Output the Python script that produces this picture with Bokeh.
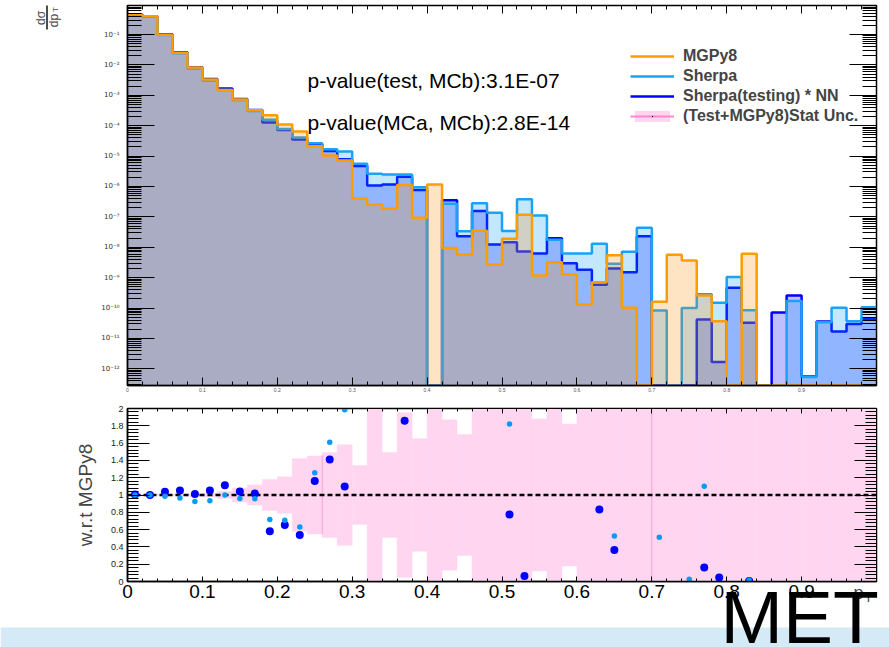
import numpy as np
from bokeh.plotting import figure
from bokeh.layouts import column
from bokeh.models import (Range1d, FixedTicker, LinearAxis, LogAxis, Label, Legend,
                          LegendItem, CustomJSTickFormatter, BoxAnnotation)
from bokeh.embed import file_html
from bokeh.resources import INLINE

# ---------------- data ----------------
bin_edges = list(np.round(np.linspace(0.0, 1.0, 51), 2))

mgpy8 = [0.455, 0.40, 0.098, 0.025, 8.2e-3, 3.3e-3, 1.5e-3, 7.3e-4, 3.2e-4, 2.2e-4,
         1.1e-4, 6.5e-5, 2.1e-5, 1.05e-5, 7.2e-6, 4.0e-7, 2.5e-7, 1.86e-7, 1.12e-6, 9.3e-8,
         1.17e-6, 9.5e-9, 5.7e-9, 3.5e-8, 2.7e-9, 1.9e-8, 1.17e-7, 1.17e-9, 3.2e-9, 1.28e-9,
         1.32e-10, 7.1e-10, 5.5e-9, 1.02e-10, 0, 1.62e-10, 5.7e-9, 3.7e-9, 2.6e-10, 3.7e-11,
         0, 6.1e-9, 0, 0, 0, 0, 0, 0, 0, 0]

sherpa = [0.455, 0.40, 0.0966, 0.0241, 7.59e-3, 3.08e-3, 1.5e-3, 7.0e-4, 3.06e-4, 1.58e-4,
          7.8e-5, 4.1e-5, 2.64e-5, 1.69e-5, 1.43e-5, 5.6e-6, 2.64e-6, 2.46e-6, 2.46e-6, 9.5e-7,
          0, 2.7e-7, 3.4e-8, 2.8e-7, 1.38e-7, 3.46e-8, 3.8e-7, 1.12e-7, 1.78e-8, 6.2e-9,
          6.2e-9, 1.32e-8, 2.9e-9, 7.1e-9, 4.4e-8, 8.3e-11, 0, 1.0e-10, 2.86e-10, 1.5e-10,
          1.05e-9, 8.5e-11, 0, 0, 1.7e-10, 5.4e-13, 3.4e-11, 1.02e-10, 3.7e-11, 1.07e-10]

sherpa_nn = [0.458, 0.40, 0.1016, 0.0263, 8.3e-3, 3.47e-3, 1.67e-3, 7.6e-4, 3.26e-4, 1.28e-4,
             7.2e-5, 3.5e-5, 2.44e-5, 1.48e-5, 7.9e-6, 4.7e-6, 1.08e-6, 1.17e-6, 2.08e-6, 7.7e-7,
             0, 3.5e-7, 2.3e-8, 1.55e-7, 1.23e-8, 1.47e-8, 7.3e-9, 6.2e-9, 2.0e-8, 3.0e-9,
             1.82e-9, 5.9e-10, 2.0e-9, 1.5e-9, 2.3e-8, 0, 0, 0, 4.2e-11, 1.7e-12,
             4.7e-10, 3.3e-11, 0, 7.2e-11, 2.6e-10, 5.6e-13, 3.6e-11, 1.7e-11, 3.0e-11, 4.5e-11]

stat_err = [0.003, 0.004, 0.006, 0.01, 0.015, 0.02, 0.04, 0.08, 0.115, 0.18,
            0.21, 0.42, 0.45, 0.49, 0.58, 0.34, 1.5, 0.49, 0.95, 0.65,
            1.5, 0.87, 0.70, 1.5, 1.5, 1.5, 1.5, 0.88, 1.5, 0.82,
            1.5, 1.5, 1.5, 1.5, 1.5, 1.5, 1.5, 1.5, 1.5, 1.5,
            1.5, 1.5, 1.5, 1.5, 1.5, 1.5, 1.5, 1.5, 1.5, 1.5]

err_line_x = [0.26, 0.70]
err_line_lo = [0.55, 0.0]
err_line_hi = [1.46, 2.0]

ref_x = [0.0, 1.0]
ref_y = [1.0, 1.0]

pvalue_texts = ["p-value(test, MCb):3.1E-07", "p-value(MCa, MCb):2.8E-14"]
legend_labels = ["MGPy8", "Sherpa", "Sherpa(testing) * NN", "(Test+MGPy8)Stat Unc."]
legend_dummy = [float("nan")]

FL, FR = 127, 876
def ux(px):
    return (px - FL) / (FR - FL)
def uy_log(py):
    return 10 ** (-1 - (py - 34) / 30.4)

ymin, ymax = 2.84e-13, 0.90
FONT = "Liberation Sans"
W, H = 889, 647

# ---------------- upper panel ----------------
p1 = figure(width=W, height=400, x_range=Range1d(0, 1), y_range=Range1d(ymin, ymax),
            y_axis_type="log", output_backend="svg", toolbar_location=None,
            min_border_left=127, min_border_right=13, min_border_top=5, min_border_bottom=15,
            outline_line_color="black", outline_line_width=1.5,
            background_fill_color="white", border_fill_color="white")
p1.grid.visible = False

x_major = [round(0.1 * i, 1) for i in range(10)]
x_minor = [round(0.02 * i, 2) for i in range(51)]
y_major = [10.0 ** e for e in range(-12, 0)]
y_minor = [k * 10.0 ** e for e in range(-13, 0) for k in range(2, 10)]

sup_fmt = CustomJSTickFormatter(code="""
const e = Math.round(Math.log10(tick));
const s = {'-':'\u207b','0':'\u2070','1':'\u00b9','2':'\u00b2','3':'\u00b3','4':'\u2074','5':'\u2075','6':'\u2076','7':'\u2077','8':'\u2078','9':'\u2079'};
return '10' + String(e).split('').map(c => s[c]).join('');
""")
dec_fmt = CustomJSTickFormatter(code="return String(Math.round(tick*10)/10);")

def hidden_axis(cls, ticker, tin, mtin):
    return cls(ticker=ticker, major_tick_in=tin, major_tick_out=0, minor_tick_in=mtin,
               minor_tick_out=0, major_label_text_font_size="1px", major_label_text_color=None,
               major_label_standoff=0)

ya = p1.yaxis[0]
ya.ticker = FixedTicker(ticks=y_major, minor_ticks=y_minor)
ya.formatter = sup_fmt
ya.major_tick_in, ya.major_tick_out = 27, 0
ya.minor_tick_in, ya.minor_tick_out = 14, 0
ya.major_label_text_font = "DejaVu Sans"
ya.major_label_text_font_size = "7px"
ya.major_label_text_color = "#333333"
ya.major_label_standoff = 8
ya.axis_line_width = 1.5

xa = p1.xaxis[0]
xa.ticker = FixedTicker(ticks=x_major, minor_ticks=x_minor)
xa.formatter = dec_fmt
xa.major_tick_in, xa.major_tick_out = 8, 0
xa.minor_tick_in, xa.minor_tick_out = 4, 0
xa.major_label_text_font_size = "5px"
xa.major_label_text_color = "#555555"
xa.major_label_standoff = 2
xa.axis_line_width = 1.5

p1.add_layout(hidden_axis(LogAxis, FixedTicker(ticks=y_major, minor_ticks=y_minor), 27, 14), "right")
p1.add_layout(hidden_axis(LinearAxis, FixedTicker(ticks=x_major, minor_ticks=x_minor), 8, 4), "above")

def draw_hist(vals, fill, falpha, line):
    y = [v if v > 0 else ymin for v in vals]
    ys = y + [y[-1]]
    p1.varea_step(x=bin_edges, y1=[1e-14] * len(bin_edges), y2=ys, step_mode="after",
                  fill_color=fill, fill_alpha=falpha)
    return p1.step(x=bin_edges, y=ys, mode="after", line_color=line, line_width=2.5)

r_nn = draw_hist(sherpa_nn, "#0000ff", 0.25, "#0000ff")
r_sh = draw_hist(sherpa, "#0099ff", 0.24, "#1aa3f5")
r_mg = draw_hist(mgpy8, "#ff8a00", 0.23, "#ff9c00")

# legend-only glyphs for the stat-uncertainty entry (NaN data -> nothing drawn in frame)
r_box = p1.quad(left=legend_dummy, right=legend_dummy, top=legend_dummy, bottom=legend_dummy,
                fill_color="#ffd5f0", line_color=None)
r_pl = p1.line(x=legend_dummy, y=legend_dummy, line_color="#ff88cc", line_width=2)
r_dot = p1.scatter(x=legend_dummy, y=legend_dummy, marker="dot", size=4, color="black")

legend = Legend(items=[LegendItem(label=legend_labels[0], renderers=[r_mg]),
                       LegendItem(label=legend_labels[1], renderers=[r_sh]),
                       LegendItem(label=legend_labels[2], renderers=[r_nn]),
                       LegendItem(label=legend_labels[3], renderers=[r_box, r_pl, r_dot])],
                location=(503, 259), glyph_width=44, glyph_height=14, label_height=20,
                spacing=0, padding=0, margin=0, border_line_color=None,
                background_fill_alpha=0, label_text_font=FONT, label_text_font_style="bold",
                label_text_font_size="16px", label_standoff=9)
p1.add_layout(legend)

for t, py in zip(pvalue_texts, [80, 121.7]):
    p1.add_layout(Label(x=ux(307), y=uy_log(py), text=t, text_font=FONT,
                        text_font_size="21px", text_baseline="middle", text_color="black"))

# ---------------- lower panel ----------------
p2 = figure(width=W, height=247, x_range=Range1d(0, 1), y_range=Range1d(0, 2),
            output_backend="svg", toolbar_location=None,
            min_border_left=127, min_border_right=13, min_border_top=8, min_border_bottom=66,
            outline_line_color="black", outline_line_width=1.5,
            background_fill_color="white", border_fill_color="white")
p2.grid.visible = False

p2.quad(left=bin_edges[:-1], right=bin_edges[1:],
        bottom=[1 - e for e in stat_err], top=[1 + e for e in stat_err],
        fill_color="#ffd5f0", line_color="#ffd5f0", line_width=0.5)
p2.segment(x0=err_line_x, x1=err_line_x, y0=err_line_lo, y1=err_line_hi,
           line_color="#f4a3d6", line_width=1)
p2.line(x=ref_x, y=ref_y, line_color="black", line_width=2.5, line_dash="5 3")

centers = [round(e + 0.01, 2) for e in bin_edges[:-1]]
def ratio(num):
    xs, rs = [], []
    for c, n, d in zip(centers, num, mgpy8):
        if d > 0 and n > 0 and n / d < 2.1:
            xs.append(c)
            rs.append(n / d)
    return xs, rs

nx, nr = ratio(sherpa_nn)
sx, sr = ratio(sherpa)
p2.scatter(x=nx, y=nr, size=8, color="#0000ff", line_color=None)
p2.scatter(x=sx, y=sr, size=5.5, color="#0a9af5", line_color=None)

y2_major = [round(0.2 * i, 1) for i in range(11)]
y2_minor = [round(0.04 * i, 2) for i in range(51)]

la = p2.yaxis[0]
la.ticker = FixedTicker(ticks=y2_major, minor_ticks=y2_minor)
la.formatter = dec_fmt
la.major_tick_in, la.major_tick_out = 22, 0
la.minor_tick_in, la.minor_tick_out = 11, 0
la.major_label_text_font = FONT
la.major_label_text_font_size = "9px"
la.major_label_text_color = "#222222"
la.major_label_standoff = 4
la.axis_label = "w.r.t MGPy8"
la.axis_label_text_font = FONT
la.axis_label_text_font_size = "19px"
la.axis_label_text_font_style = "normal"
la.axis_label_standoff = 12
la.axis_line_width = 1.5

ba = p2.xaxis[0]
ba.ticker = FixedTicker(ticks=x_major, minor_ticks=x_minor)
ba.formatter = dec_fmt
ba.major_tick_in, ba.major_tick_out = 5, 0
ba.minor_tick_in, ba.minor_tick_out = 3, 0
ba.major_label_text_font = FONT
ba.major_label_text_font_size = "19px"
ba.major_label_text_color = "black"
ba.major_label_standoff = 3
ba.axis_line_width = 1.5

p2.add_layout(hidden_axis(LinearAxis, FixedTicker(ticks=y2_major, minor_ticks=y2_minor), 22, 11), "right")
p2.add_layout(hidden_axis(LinearAxis, FixedTicker(ticks=x_major, minor_ticks=x_minor), 5, 3), "above")

# ---------------- transparent overlay (page-pixel coordinates) for texts outside the frames ----------------
ov = figure(width=W, height=H, x_range=Range1d(0, W), y_range=Range1d(0, H),
            output_backend="svg", toolbar_location=None, x_axis_location=None, y_axis_location=None,
            min_border=0, outline_line_color=None, background_fill_alpha=0, border_fill_alpha=0,
            margin=(-H, 0, 0, 0), frame_align=False)
ov.grid.visible = False
def oy(py):
    return H - py

# y title d sigma / d pT (rotated fraction)
ov.add_layout(Label(x=40, y=oy(17.5), text="d\u03c3", angle=np.pi / 2, text_font=FONT,
                    text_font_size="12px", text_align="center", text_baseline="middle"))
ov.add_layout(Label(x=53, y=oy(20), text="dp", angle=np.pi / 2, text_font=FONT,
                    text_font_size="12px", text_align="center", text_baseline="middle"))
ov.add_layout(Label(x=55, y=oy(9), text="T", angle=np.pi / 2, text_font=FONT,
                    text_font_size="8px", text_align="center", text_baseline="middle"))
ov.add_layout(BoxAnnotation(left=45.8, right=47.2, top=oy(5), bottom=oy(29),
                            fill_color="black", fill_alpha=1, line_color=None))

# axis title pT
ov.add_layout(Label(x=853, y=oy(592), text="p", text_font=FONT, text_font_size="18px",
                    text_align="left", text_baseline="middle"))
ov.add_layout(Label(x=864, y=oy(597), text="T", text_font=FONT, text_font_size="13px",
                    text_align="left", text_baseline="middle"))

# slide background band + big MET title
ov.add_layout(BoxAnnotation(left=0, right=W, top=oy(627), bottom=oy(H),
                            fill_color="#d4ebf7", fill_alpha=1, line_color=None))
ov.add_layout(Label(x=720, y=oy(616), text="MET", text_font=FONT, text_font_size="75px",
                    text_align="left", text_baseline="middle", text_color="black"))

layout = column(p1, p2, ov, spacing=0)
open("out.html", "w").write(file_html(layout, INLINE))
